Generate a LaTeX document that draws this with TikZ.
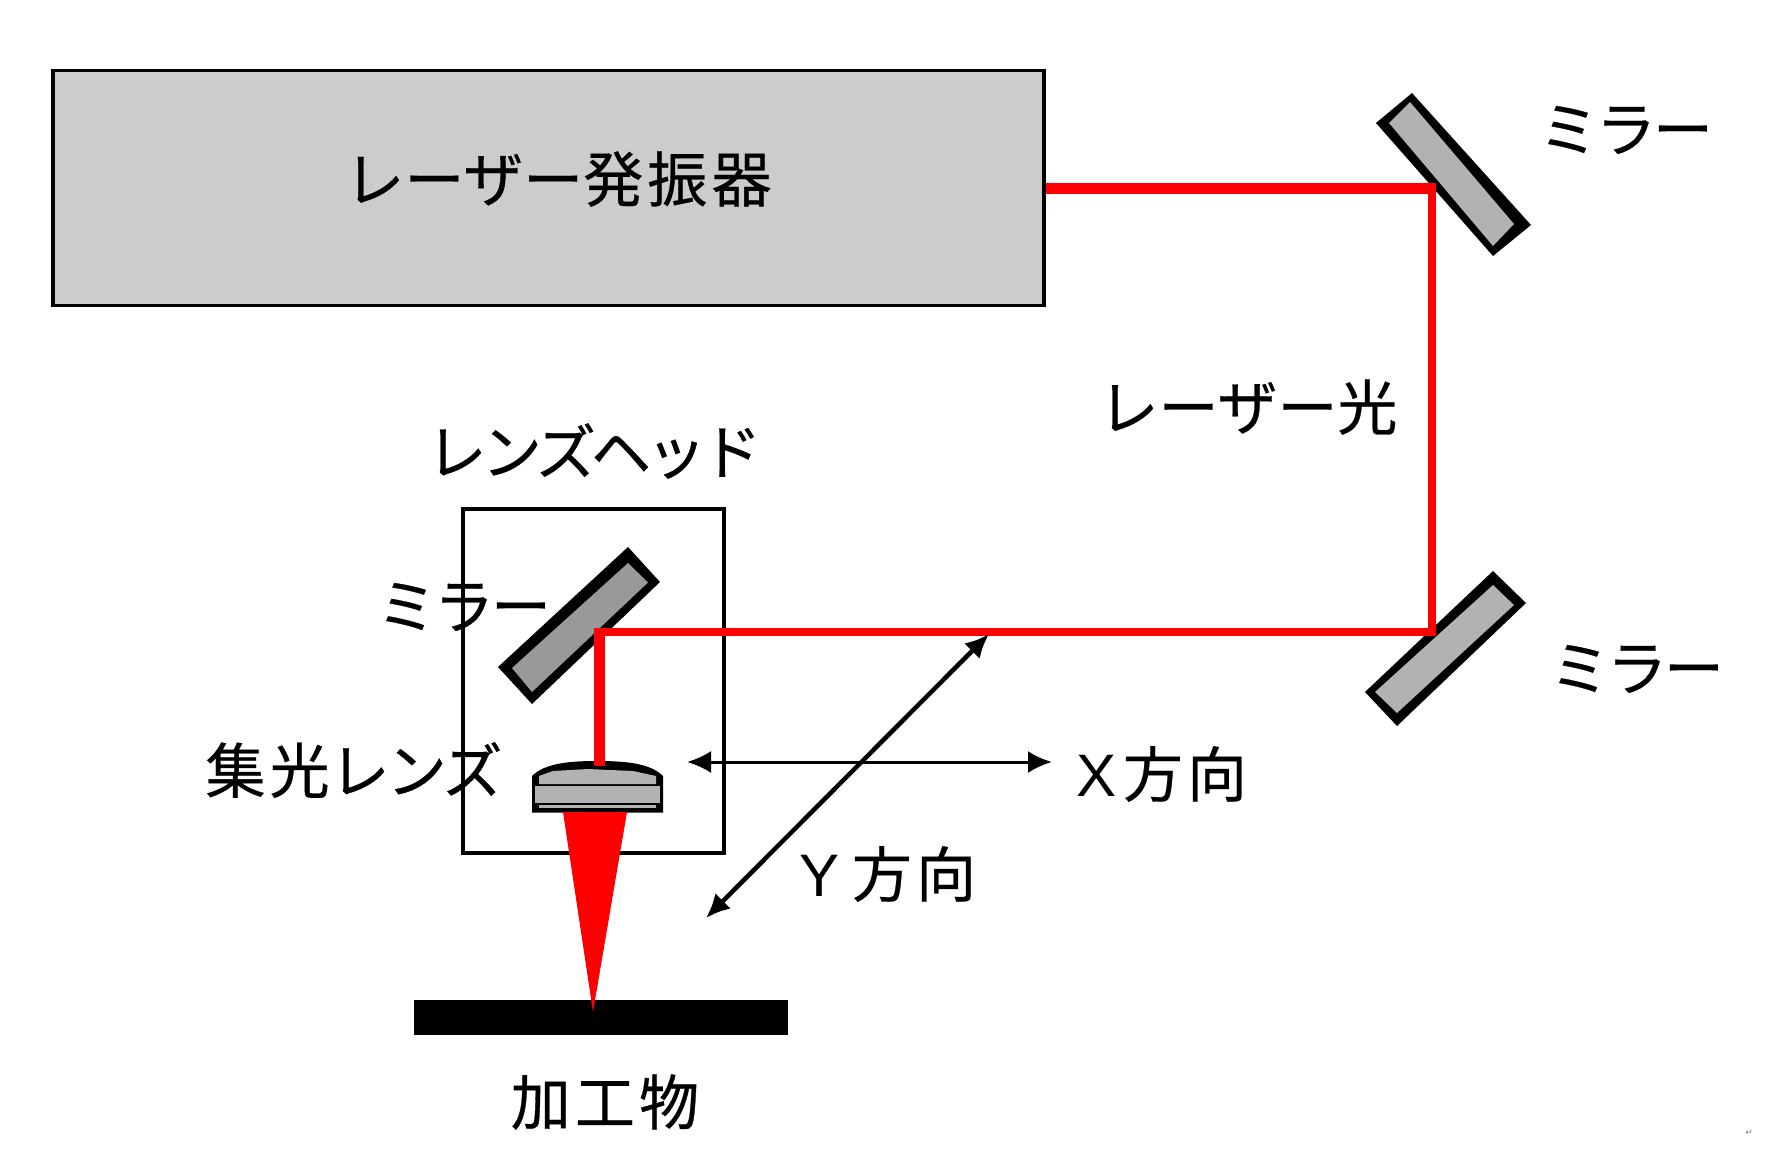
\documentclass[tikz,border=0pt]{standalone}
\usepackage{fontspec}
\setmainfont{Noto Sans CJK JP}
\newfontfamily\kanafont[LetterSpace=-5,FakeBold=0.5]{Noto Sans CJK JP}
\newfontfamily\plainfont[FakeBold=0.5]{Noto Sans CJK JP}
\newfontfamily\tightfont[LetterSpace=-8,FakeBold=0.5]{Noto Sans CJK JP}
\newfontfamily\kanjifont[LetterSpace=7,FakeBold=0.5]{Noto Sans CJK JP}
\newfontfamily\latinfont{Liberation Sans}
\newfontfamily\markfont{DejaVu Sans}
\usetikzlibrary{arrows.meta}
\definecolor{boxgray}{HTML}{CCCCCC}
\definecolor{mirrorgray}{HTML}{B2B2B2}
\definecolor{headgray}{HTML}{999999}
\tikzset{
  x=1pt, y=-1pt,
  label/.style = {inner sep=0pt, font=\fontsize{60}{64}\selectfont\kanafont},
  widelabel/.style = {inner sep=0pt, font=\fontsize{60}{64}\selectfont\kanjifont},
  framebox/.style = {draw=black, line width=3.5pt, inner sep=0pt},
  beam/.style = {draw=red, line width=8pt},
  axis/.style = {draw=black, {Latex[length=24pt,width=22pt]}-{Latex[length=24pt,width=22pt]}},
}
\begin{document}
\begin{tikzpicture}
\useasboundingbox (0,0) rectangle (1775,1152);
% boxes
\node [framebox, fill=boxgray, minimum width=991pt, minimum height=235pt] (laser) at (548.5,188) {};
\node [framebox, minimum width=261pt, minimum height=344pt] (head) at (593.5,681) {};
\node [fill=black, inner sep=0pt, minimum width=374pt, minimum height=35pt] (work) at (601,1017) {};
% mirrors
\fill (1412,93) -- (1531,225) -- (1493,256) -- (1376,123) -- cycle;
\fill [mirrorgray] (1410,102) -- (1514,224) -- (1493,246) -- (1389,123) -- cycle;
\fill (1493,571) -- (1526,603) -- (1397,726) -- (1365,692) -- cycle;
\fill [mirrorgray] (1493,585) -- (1514,605) -- (1397,713) -- (1375,692) -- cycle;
\fill (628,547) -- (660,582) -- (532,704) -- (498,667) -- cycle;
\fill [headgray] (628,563) -- (648,582.5) -- (532,692) -- (512,668) -- cycle;
% lens
\fill (532,812.5) -- (532,776) .. controls (545,763) and (570,761) .. (597,761)
  .. controls (625,761) and (650,763) .. (663,776) -- (663,812.5) -- cycle;
\fill [mirrorgray] (539,784) -- (539,776) -- (553,771) -- (588,769) -- (633,771) -- (656,776) -- (656,784) -- cycle;
\fill [mirrorgray] (535,785.5) rectangle (660,803);
\fill [mirrorgray] (539,804.5) rectangle (656,808);
% beam
\coordinate (hitA) at (1436,188);
\coordinate (hitB) at (1436,632);
\coordinate (hitC) at (599,632);
\coordinate (lens) at (599,766);
\draw [beam, line width=11pt] (laser.east |- hitA) -- (hitA);
\draw [beam] (1432,184) -- (1432,636);
\draw [beam] (hitB) -- (hitC);
\draw [beam, line width=11pt] (hitC) ++(0,-4) -- (lens);
\fill [red] (563,812) -- (627,812) -- (593,1012) -- cycle;
% directions
\coordinate (xa) at (687,762);
\coordinate (xb) at (1052,762);
\coordinate (ya) at (989,634);
\coordinate (yb) at (706,918);
\draw [axis, line width=3pt] (xa) -- (xb);
\draw [axis, line width=4.5pt] (ya) -- (yb);
% labels
\node [label] (laserlabel) at (558,179) {{\plainfont レーザー}{\kanjifont 発振器}};
\node [label] (topmirror) at (1626,130) {ミラー};
\node [label] (lowmirror) at (1637,669) {ミラー};
\node [label] (headmirror) at (464,607) {ミラー};
\node [label] (beamlabel) at (1248,407) {{\plainfont レーザー}{\kanjifont 光}};
\node [label] (headlabel) at (594,451) {{\tightfont レンズヘッド}};
\node [label] (lenslabel) at (354,770) {{\kanjifont 集光}レンズ};
\node [widelabel] (xlabel) at (1162,774) {{\latinfont X\hspace{6pt}}方向};
\node [widelabel] (ylabel) at (888,874) {{\latinfont Y\hspace{12pt}}方向};
\node [widelabel] (worklabel) at (605,1102) {加工物};
\node [inner sep=0pt, font=\fontsize{9}{10}\selectfont\markfont, text=gray] (mark) at (1749,1133) {↵};
\end{tikzpicture}
\end{document}
